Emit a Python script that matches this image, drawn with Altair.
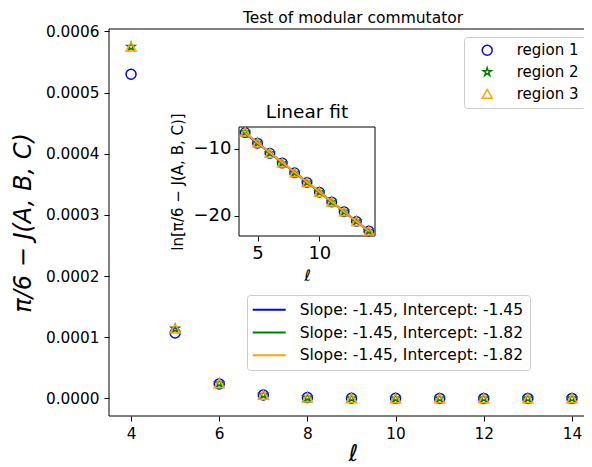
import altair as alt
import pandas as pd

# ---------------- data ----------------
ell = [4, 5, 6, 7, 8, 9, 10, 11, 12, 13, 14]
region_names = ["region 1", "region 2", "region 3"]
region1 = [5.30e-4, 1.07e-4, 2.37e-5, 5.6e-6, 1.30e-6, 3.06e-7, 7.2e-8, 1.68e-8, 3.9e-9, 9.2e-10, 2.2e-10]
region2 = [5.75e-4, 1.14e-4, 2.45e-5, 5.7e-6, 1.33e-6, 3.10e-7, 7.3e-8, 1.70e-8, 3.95e-9, 9.3e-10, 2.2e-10]
region3 = [5.75e-4, 1.14e-4, 2.45e-5, 5.7e-6, 1.33e-6, 3.10e-7, 7.3e-8, 1.70e-8, 3.95e-9, 9.3e-10, 2.2e-10]
fit_labels = [
    "Slope: -1.45, Intercept: -1.45",
    "Slope: -1.45, Intercept: -1.82",
    "Slope: -1.45, Intercept: -1.82",
]
colors = ["blue", "green", "orange"]
x_ticks = [4, 6, 8, 10, 12, 14]
y_ticks = [0.0, 0.0001, 0.0002, 0.0003, 0.0004, 0.0005, 0.0006]
inset_x_ticks = [5, 10]
inset_y_ticks = [-20, -10]
main_title = ["Test of modular commutator"]
inset_title = ["Linear fit"]

rows = []
for name, vals in zip(region_names, [region1, region2, region3]):
    for l, v in zip(ell, vals):
        rows.append({"l": l, "v": v, "region": name})
df = pd.DataFrame(rows)

# ---------------- style ----------------
FONT = "DejaVu Sans"
STAR = ("M0,-0.85L0.19,-0.263L0.808,-0.263L0.309,0.1L0.5,0.688L0,0.325"
        "L-0.5,0.688L-0.309,0.1L-0.808,-0.263L-0.19,-0.263Z")
shapes = ["circle", STAR, "triangle-up"]
LINE_SYMBOL = "M-2.2,0L2.2,0"

W, H = 475, 387      # drawn view (page is 576 px wide inside its margins)
XR = 485             # full axis length; the right spine falls just outside the page

main_x = alt.Scale(domain=[3.5, 14.5], range=[0, XR], nice=False, zero=False)
main_y = alt.Scale(domain=[-0.0000288, 0.000604], nice=False, zero=False)
ix = alt.Scale(domain=[3.5, 14.5], range=[130, 266], nice=False, zero=False)
iy = alt.Scale(domain=[-22.99, -6.72], range=[207, 98], nice=False, zero=False)

main_xaxis = alt.Axis(values=x_ticks, format="d", orient="bottom", domain=False, grid=False,
                      tickSize=5, labelFontSize=15.3, labelPadding=5,
                      title="ℓ", titleFontSize=23, titleFontStyle="italic",
                      titleX=244, titleY=44, titleAlign="center", titleBaseline="alphabetic")
main_yaxis = alt.Axis(values=y_ticks, format=".4f", orient="left", domain=False, grid=False,
                      tickSize=5, labelFontSize=15.3, labelPadding=5,
                      title="π/6 − J(A, B, C)", titleFontSize=24, titleFontStyle="italic",
                      titleAngle=270, titleX=-79, titleY=193.5, titleAlign="center",
                      titleBaseline="alphabetic")
inset_xaxis = alt.Axis(values=inset_x_ticks, format="d", orient="bottom", offset=-180, grid=False,
                       domain=False, tickSize=5, labelFontSize=18, labelPadding=3,
                       title="ℓ", titleFontSize=16, titleFontStyle="italic",
                       titleX=198, titleY=44, titleAlign="center", titleBaseline="alphabetic")
inset_yaxis = alt.Axis(values=inset_y_ticks, format="d", orient="left", offset=-130, grid=False,
                       domain=False, tickSize=5, labelFontSize=18, labelPadding=3,
                       title="ln[π/6 − J(A, B, C)]", titleFontSize=15,
                       titleAngle=270, titleX=-57, titleY=152.5, titleAlign="center",
                       titleBaseline="alphabetic")

legend_common = dict(orient="none", title=None, labelFont=FONT,
                     fillColor="rgba(255,255,255,0.8)", strokeColor="#cccccc",
                     cornerRadius=3, labelLimit=320)

# ---------------- main plot ----------------
main_points = alt.Chart(df).mark_point(filled=False, strokeWidth=1.5, size=100, opacity=1).encode(
    x=alt.X("l:Q", scale=main_x, axis=main_xaxis),
    y=alt.Y("v:Q", scale=main_y, axis=main_yaxis),
    color=alt.Color("region:N", scale=alt.Scale(domain=region_names, range=colors),
                    legend=alt.Legend(legendX=355, legendY=8, padding=5.7, symbolOffset=10,
                                      labelOffset=22, rowPadding=5.8, symbolSize=100,
                                      labelFontSize=15, symbolStrokeWidth=1.5, **legend_common)),
    shape=alt.Shape("region:N", scale=alt.Scale(domain=region_names, range=shapes)),
)

main_box = alt.Chart(alt.Data(values=[{}])).mark_rect(fillOpacity=0, stroke="black", strokeWidth=1).encode(
    x=alt.XDatum(3.5, type="quantitative", scale=main_x, axis=main_xaxis),
    x2=alt.X2Datum(14.5),
    y=alt.YDatum(-0.0000288, type="quantitative", scale=main_y, axis=main_yaxis),
    y2=alt.Y2Datum(0.000604),
)

title_df = pd.DataFrame({"t": main_title})
title_mark = alt.Chart(title_df).mark_text(font=FONT, fontSize=15.5, align="center",
                                           baseline="alphabetic", color="black").encode(
    x=alt.value(244), y=alt.value(-6), text="t:N")

main_layer = alt.layer(main_points, main_box, title_mark)

# ---------------- inset ----------------
inset_box = alt.Chart(alt.Data(values=[{}])).mark_rect(fill="white", stroke="black", strokeWidth=1).encode(
    x=alt.XDatum(3.5, type="quantitative", scale=ix, axis=inset_xaxis),
    x2=alt.X2Datum(14.5),
    y=alt.YDatum(-22.99, type="quantitative", scale=iy, axis=inset_yaxis),
    y2=alt.Y2Datum(-6.72),
)

inset_points = alt.Chart(df).transform_calculate(lny="log(datum.v)").mark_point(
    filled=False, strokeWidth=1.5, size=90, opacity=1).encode(
    x=alt.X("l:Q", scale=ix, axis=inset_xaxis),
    y=alt.Y("lny:Q", scale=iy, axis=inset_yaxis),
    color=alt.Color("region:N", scale=alt.Scale(domain=region_names, range=colors), legend=None),
    shape=alt.Shape("region:N", scale=alt.Scale(domain=region_names, range=shapes), legend=None),
)

label_expr = ""
for name, lab in zip(region_names[:-1], fit_labels[:-1]):
    label_expr += f"datum.label == '{name}' ? '{lab}' : "
label_expr += f"'{fit_labels[-1]}'"

inset_lines = alt.Chart(df).transform_calculate(lny="log(datum.v)").transform_regression(
    "l", "lny", groupby=["region"], extent=[4, 14]).mark_line(strokeWidth=2).encode(
    x=alt.X("l:Q", scale=ix, axis=inset_xaxis),
    y=alt.Y("lny:Q", scale=iy, axis=inset_yaxis),
    color=alt.Color("region:N", scale=alt.Scale(domain=region_names, range=colors),
                    legend=alt.Legend(legendX=138, legendY=266, padding=6.2, labelOffset=22,
                                      symbolOffset=7.5, rowPadding=5.8, symbolType=LINE_SYMBOL,
                                      symbolSize=225, symbolStrokeWidth=2, labelFontSize=15.5,
                                      labelExpr=label_expr, **legend_common)),
)

ititle_df = pd.DataFrame({"t": inset_title})
inset_title_mark = alt.Chart(ititle_df).mark_text(font=FONT, fontSize=18.5, align="center",
                                                  baseline="alphabetic", color="black").encode(
    x=alt.value(198), y=alt.value(89), text="t:N")

inset_layer = alt.layer(inset_box, inset_points, inset_lines, inset_title_mark).resolve_scale(
    color="independent", shape="independent")

chart = alt.layer(main_layer, inset_layer).resolve_scale(
    x="independent", y="independent", color="independent", shape="independent"
).properties(
    width=W, height=H,
    autosize=alt.AutoSizeParams(type="none"),
    padding={"left": 101, "top": 21, "right": 0, "bottom": 62},
).configure_view(stroke=None).configure_axis(
    labelFont=FONT, titleFont=FONT, labelColor="black", titleColor="black",
    tickColor="black", domainColor="black", titleFontWeight="normal", tickWidth=1,
)

chart.save("out.html", embed_options={"renderer": "svg", "actions": False})
